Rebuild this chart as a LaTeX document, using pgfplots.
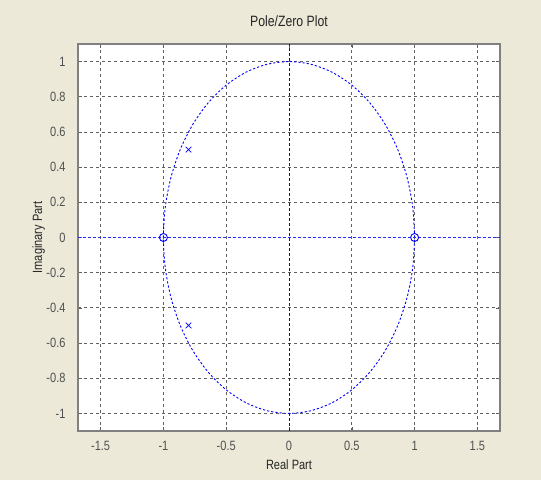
\documentclass[border=0pt]{standalone}
\usepackage{fontspec}
\setmainfont{Liberation Sans}[FakeStretch=0.82]
\usepackage{pgfplots}
\pgfplotsset{compat=1.18}
\definecolor{bgc}{HTML}{ECE9D8}
\definecolor{tickc}{HTML}{505050}
\definecolor{gridc}{HTML}{606060}
\definecolor{zblue}{RGB}{0,0,255}
\definecolor{lblue}{RGB}{40,40,255}
\begin{document}
\begin{tikzpicture}[x=1bp,y=1bp]
\fill[bgc] (0,0) rectangle (541,480);
\begin{axis}[
  at={(78bp,49bp)}, anchor=south west, scale only axis,
  width=422bp, height=387bp,
  xmin=-1.68, xmax=1.68, ymin=-1.1, ymax=1.1,
  axis background/.style={fill=white},
  xtick={-1.5,-1,-0.5,0.5,1,1.5},
  xticklabels={-1.5,-1,-0.5,0.5,1,1.5},
  ytick={-1,-0.8,-0.6,-0.4,-0.2,0.2,0.4,0.6,0.8,1},
  yticklabels={-1,-0.8,-0.6,-0.4,-0.2,0.2,0.4,0.6,0.8,1},
  extra x ticks={0}, extra x tick labels={0},
  extra y ticks={0}, extra y tick labels={0},
  extra x tick style={xmajorgrids=false, grid=none},
  extra y tick style={ymajorgrids=false, grid=none},
  xmajorgrids=true, ymajorgrids=true,
  major grid style={draw=gridc, dash pattern=on 3bp off 3bp, line width=0.8bp},
  tick align=inside, major tick length=4bp,
  tick style={draw=gridc, line width=0.6bp},
  axis line style={draw=gray, line width=1.2bp},
  font=\fontsize{13.5}{15}\selectfont,
  xticklabel style={anchor=base, yshift=-20bp, text=tickc},
  yticklabel style={anchor=east, xshift=-9bp, text=tickc},
  title={Pole/Zero Plot},
  title style={at={(axis description cs:0.5,1)}, anchor=base, yshift=12bp, text=black!85, font=\fontsize{15}{17}\selectfont},
  xlabel={Real Part},
  xlabel style={at={(axis description cs:0.5,0)}, anchor=base, yshift=-39bp, text=black!85},
  ylabel={Imaginary Part},
  ylabel style={at={(axis description cs:-0.070,0.5)}, anchor=south, rotate=0, text=black!85},
  clip=true,
]
% unit circle
\addplot[draw=zblue, line width=0.9bp, dash pattern=on 2.2bp off 2bp, smooth] coordinates {
(1,0) (0.9848,0.1736) (0.9397,0.3420) (0.8660,0.5) (0.7660,0.6428) (0.6428,0.7660)
(0.5,0.8660) (0.3420,0.9397) (0.1736,0.9848) (0,1)
(-0.1736,0.9848) (-0.3420,0.9397) (-0.5,0.8660) (-0.6428,0.7660) (-0.7660,0.6428)
(-0.8660,0.5) (-0.9397,0.3420) (-0.9848,0.1736) (-1,0)
(-0.9848,-0.1736) (-0.9397,-0.3420) (-0.8660,-0.5) (-0.7660,-0.6428) (-0.6428,-0.7660)
(-0.5,-0.8660) (-0.3420,-0.9397) (-0.1736,-0.9848) (0,-1)
(0.1736,-0.9848) (0.3420,-0.9397) (0.5,-0.8660) (0.6428,-0.7660) (0.7660,-0.6428)
(0.8660,-0.5) (0.9397,-0.3420) (0.9848,-0.1736) (1,0)};
% axes lines through the origin
\addplot[draw=lblue, line width=1.5bp, dash pattern=on 3bp off 2bp] coordinates {(-1.68,0) (1.68,0)};
\addplot[draw=zblue, line width=1.0bp, dash pattern=on 3bp off 2bp] coordinates {(0,-1.1) (0,1.1)};
% zeros
\addplot[only marks, mark=o, mark size=4bp, zblue, line width=0.9bp] coordinates {(-1,0) (1,0)};
% poles
\addplot[only marks, mark=x, mark size=4bp, zblue, line width=0.7bp] coordinates {(-0.8,0.5) (-0.8,-0.5)};
\end{axis}
\end{tikzpicture}
\end{document}
